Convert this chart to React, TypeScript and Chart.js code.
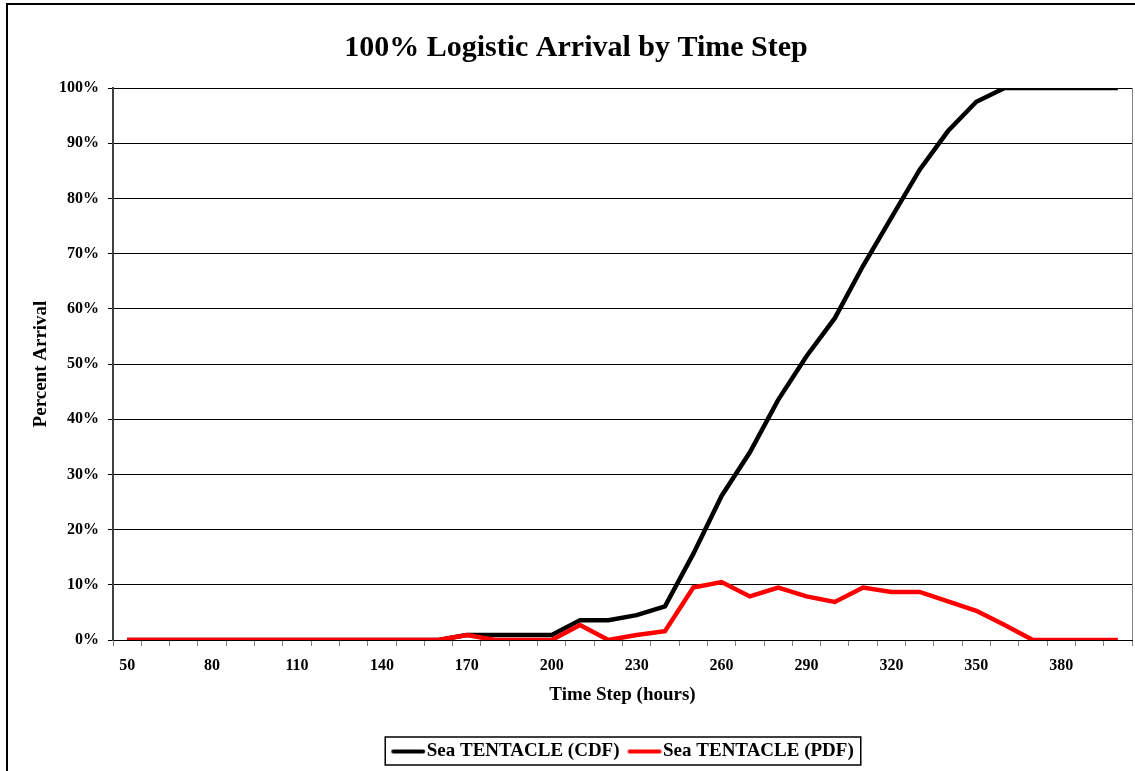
import React, { useEffect, useRef } from 'react';
import { Chart, registerables } from 'chart.js';

Chart.register(...registerables);

const FONT = "'Liberation Serif', 'Times New Roman', serif";

const chartTitle = '100% Logistic Arrival by Time Step';
const xAxisTitle = 'Time Step (hours)';
const yAxisTitle = 'Percent Arrival';

const timeSteps = [
  50, 60, 70, 80, 90, 100, 110, 120, 130, 140, 150, 160,
  170, 180, 190, 200, 210, 220, 230, 240, 250, 260, 270, 280,
  290, 300, 310, 320, 330, 340, 350, 360, 370, 380, 390, 400,
];

const cdfLabel = 'Sea TENTACLE (CDF)';
const cdfValues = [
  0, 0, 0, 0, 0, 0, 0, 0, 0, 0, 0, 0,
  0.9, 0.9, 0.9, 0.9, 3.6, 3.6, 4.5, 6.1, 15.6, 26.1, 34.0, 43.5,
  51.4, 58.3, 67.8, 76.5, 85.2, 92.2, 97.5, 100, 100, 100, 100, 100,
];

const pdfLabel = 'Sea TENTACLE (PDF)';
const pdfValues = [
  0, 0, 0, 0, 0, 0, 0, 0, 0, 0, 0, 0,
  0.9, 0, 0, 0, 2.7, 0, 0.9, 1.6, 9.5, 10.5, 7.9, 9.5,
  7.9, 6.9, 9.5, 8.7, 8.7, 7.0, 5.3, 2.7, 0, 0, 0, 0,
];

const cdfColor = '#000000';
const pdfColor = '#ff0000';
const labelEvery = 3;

// legend swatch: a short thick line, offset so that it sits close to the text
function makeSwatch(color: string): HTMLCanvasElement {
  const c = document.createElement('canvas');
  c.width = 64;
  c.height = 8;
  const g = c.getContext('2d');
  if (g) {
    g.strokeStyle = color;
    g.lineWidth = 4;
    g.lineCap = 'round';
    g.beginPath();
    g.moveTo(21, 4);
    g.lineTo(51, 4);
    g.stroke();
  }
  return c;
}

const framePlugin = {
  id: 'frame',
  beforeDraw(chart: any) {
    const { ctx, width, height } = chart;
    ctx.save();
    ctx.fillStyle = '#ffffff';
    ctx.fillRect(0, 0, width, height);
    ctx.restore();
  },
  afterDraw(chart: any) {
    const { ctx, chartArea, legend } = chart;
    ctx.save();
    ctx.strokeStyle = '#000000';
    ctx.lineWidth = 2;
    ctx.strokeRect(7, 4, 1400, 1000);
    ctx.strokeStyle = '#808080';
    ctx.lineWidth = 1;
    ctx.beginPath();
    ctx.moveTo(Math.round(chartArea.right) + 0.5, chartArea.top);
    ctx.lineTo(Math.round(chartArea.right) + 0.5, chartArea.bottom);
    ctx.stroke();
    const hb = legend && legend.legendHitBoxes;
    if (hb && hb.length) {
      const first = hb[0];
      const last = hb[hb.length - 1];
      const l = first.left - 6;
      const t = first.top - 5;
      const r = last.left + last.width + 7;
      const b = first.top + first.height + 4;
      ctx.strokeStyle = '#000000';
      ctx.lineWidth = 1.5;
      ctx.strokeRect(l, t, r - l, b - t);
    }
    ctx.restore();
  },
};

export default function App() {
  const canvasRef = useRef<HTMLCanvasElement | null>(null);

  useEffect(() => {
    if (!canvasRef.current) return;
    Chart.defaults.font.family = FONT;
    Chart.defaults.color = '#000000';

    const chart = new Chart(canvasRef.current, {
      type: 'line',
      data: {
        labels: timeSteps.map(String),
        datasets: [
          {
            label: cdfLabel,
            data: cdfValues,
            borderColor: cdfColor,
            backgroundColor: cdfColor,
            borderWidth: 4.5,
            pointRadius: 0,
            pointStyle: makeSwatch(cdfColor),
            tension: 0,
            order: 1,
          },
          {
            label: pdfLabel,
            data: pdfValues,
            borderColor: pdfColor,
            backgroundColor: pdfColor,
            borderWidth: 4.5,
            pointRadius: 0,
            pointStyle: makeSwatch(pdfColor),
            tension: 0,
            order: 0,
          },
        ],
      },
      options: {
        responsive: false,
        animation: false,
        devicePixelRatio: 1,
        layout: { padding: { left: 20, right: 3, top: 0, bottom: 0 } },
        plugins: {
          title: {
            display: true,
            text: chartTitle,
            color: '#000000',
            font: { family: FONT, size: 30, weight: 'bold' },
            padding: { top: 30, bottom: 22 },
          },
          legend: {
            display: true,
            position: 'bottom',
            fullSize: false,
            labels: {
              color: '#000000',
              font: { family: FONT, size: 19, weight: 'bold' },
              usePointStyle: true,
              pointStyleWidth: 26,
              padding: 8,
              sort: (a: any, b: any) => a.datasetIndex - b.datasetIndex,
            },
          },
          tooltip: { enabled: false },
        },
        scales: {
          x: {
            type: 'category',
            offset: true,
            afterFit: (scale: any) => {
              scale.height = 94;
            },
            grid: {
              offset: true,
              drawOnChartArea: false,
              drawTicks: true,
              tickLength: 6,
              tickColor: '#808080',
            },
            border: { display: true, color: '#000000', width: 1 },
            ticks: {
              autoSkip: false,
              maxRotation: 0,
              minRotation: 0,
              padding: 10,
              color: '#000000',
              font: { family: FONT, size: 16, weight: 'bold' },
              callback: (_v: any, i: number) => (i % labelEvery === 0 ? String(timeSteps[i]) : ''),
            },
            title: {
              display: true,
              text: xAxisTitle,
              color: '#000000',
              font: { family: FONT, size: 19, weight: 'bold' },
              padding: { top: 0, bottom: 27.6 },
            },
          },
          y: {
            min: 0,
            max: 100,
            afterFit: (scale: any) => {
              scale.width = 93;
            },
            grid: {
              color: '#000000',
              lineWidth: 1,
              drawTicks: true,
              tickLength: 5,
              tickColor: '#000000',
            },
            border: { display: true, color: '#404040', width: 2 },
            ticks: {
              stepSize: 10,
              padding: 9,
              color: '#000000',
              font: { family: FONT, size: 16, weight: 'bold' },
              callback: (v: any) => `${v}%`,
            },
            title: {
              display: true,
              text: yAxisTitle,
              color: '#000000',
              font: { family: FONT, size: 19, weight: 'bold' },
              padding: { top: 9.6, bottom: 0 },
            },
          },
        },
      } as any,
      plugins: [framePlugin],
    });

    return () => chart.destroy();
  }, []);

  return (
    <div style={{ position: 'absolute', left: 0, top: 0, width: 1135, height: 771, background: '#fff' }}>
      <canvas ref={canvasRef} width={1135} height={771} style={{ display: 'block', width: 1135, height: 771 }} />
    </div>
  );
}
